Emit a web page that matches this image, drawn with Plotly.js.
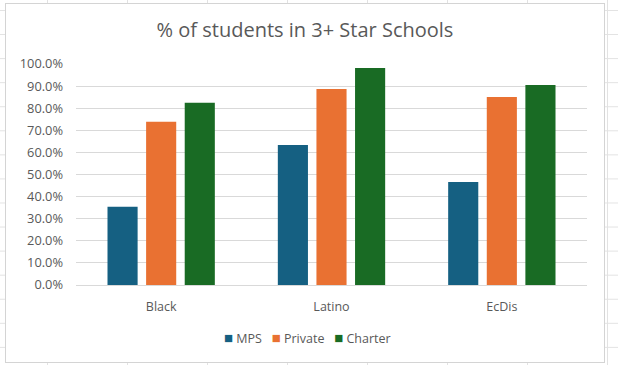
<!DOCTYPE html>
<html>
<head>
<meta charset="utf-8">
<script src="https://cdn.plot.ly/plotly-3.0.1.min.js"></script>
<style>
  html, body { margin: 0; padding: 0; }
  body {
    width: 618px; height: 365px; overflow: hidden; position: relative;
    background-color: #ffffff;
    background-image:
      linear-gradient(to right, #e2e2e2 1px, transparent 1px),
      linear-gradient(to bottom, #e2e2e2 1px, transparent 1px);
    background-size: 80px 24.07px;
    background-position: 47px 10px;
  }
  #chart {
    position: absolute; left: 5px; top: 3px; width: 600px; height: 360px;
    background: #ffffff; outline: 1px solid #d4d4d4; outline-offset: -1px;
  }
</style>
</head>
<body>
<div id="chart"></div>
<script>
// Data
const categories = ["Black", "Latino", "EcDis"];
const seriesNames = ["MPS", "Private", "Charter"];
const mpsValues = [0.354, 0.633, 0.466];
const privateValues = [0.739, 0.887, 0.851];
const charterValues = [0.825, 0.982, 0.905];
const yTickValues = [0, 0.1, 0.2, 0.3, 0.4, 0.5, 0.6, 0.7, 0.8, 0.9, 1.0];

const colors = ["#156082", "#E97132", "#196B24"];
const allValues = [mpsValues, privateValues, charterValues];

const fontFamily = "'Open Sans', 'Noto Sans', sans-serif";
const textColor = "#595959";

const traces = seriesNames.map((name, i) => ({
  type: "bar",
  name: name,
  x: categories,
  y: allValues[i],
  marker: { color: colors[i] },
  hoverinfo: "skip"
}));

// Compact Excel-style legend: coloured square glyph followed by series name
const legendText = seriesNames
  .map((n, i) => `<span style="color:${colors[i]};font-size:15px">■</span> ${n}`)
  .join("&nbsp;&nbsp;&nbsp;");

const layout = {
  width: 600,
  height: 360,
  margin: { l: 71, r: 18, t: 61, b: 78 },
  paper_bgcolor: "rgba(0,0,0,0)",
  plot_bgcolor: "#ffffff",
  barmode: "group",
  bargap: 0.32,
  bargroupgap: 0.22,
  font: { family: fontFamily, color: textColor, size: 12.5 },
  title: {
    text: "% of students in 3+ Star Schools",
    font: { family: fontFamily, size: 20, color: textColor },
    x: 0.5, xanchor: "center",
    y: 1 - 27 / 360, yref: "container", yanchor: "middle"
  },
  xaxis: {
    type: "category",
    showgrid: false,
    showline: false,
    zeroline: false,
    ticks: "",
    ticklabelstandoff: 12,
    tickfont: { family: fontFamily, size: 12.5, color: textColor }
  },
  yaxis: {
    range: [0, 1.0],
    tickvals: yTickValues,
    tickformat: ".1%",
    showgrid: true,
    gridcolor: "#d9d9d9",
    gridwidth: 1,
    zeroline: true,
    zerolinecolor: "#d9d9d9",
    zerolinewidth: 1,
    showline: false,
    ticks: "",
    ticklabelstandoff: 12,
    tickfont: { family: fontFamily, size: 12.8, color: textColor }
  },
  showlegend: false,
  annotations: [{
    text: legendText,
    xref: "paper", yref: "paper",
    x: 0.454, y: -0.235,
    xanchor: "center", yanchor: "middle",
    showarrow: false,
    font: { family: fontFamily, size: 12.5, color: textColor }
  }]
};

Plotly.newPlot("chart", traces, layout, { displayModeBar: false, staticPlot: true });
</script>
</body>
</html>
